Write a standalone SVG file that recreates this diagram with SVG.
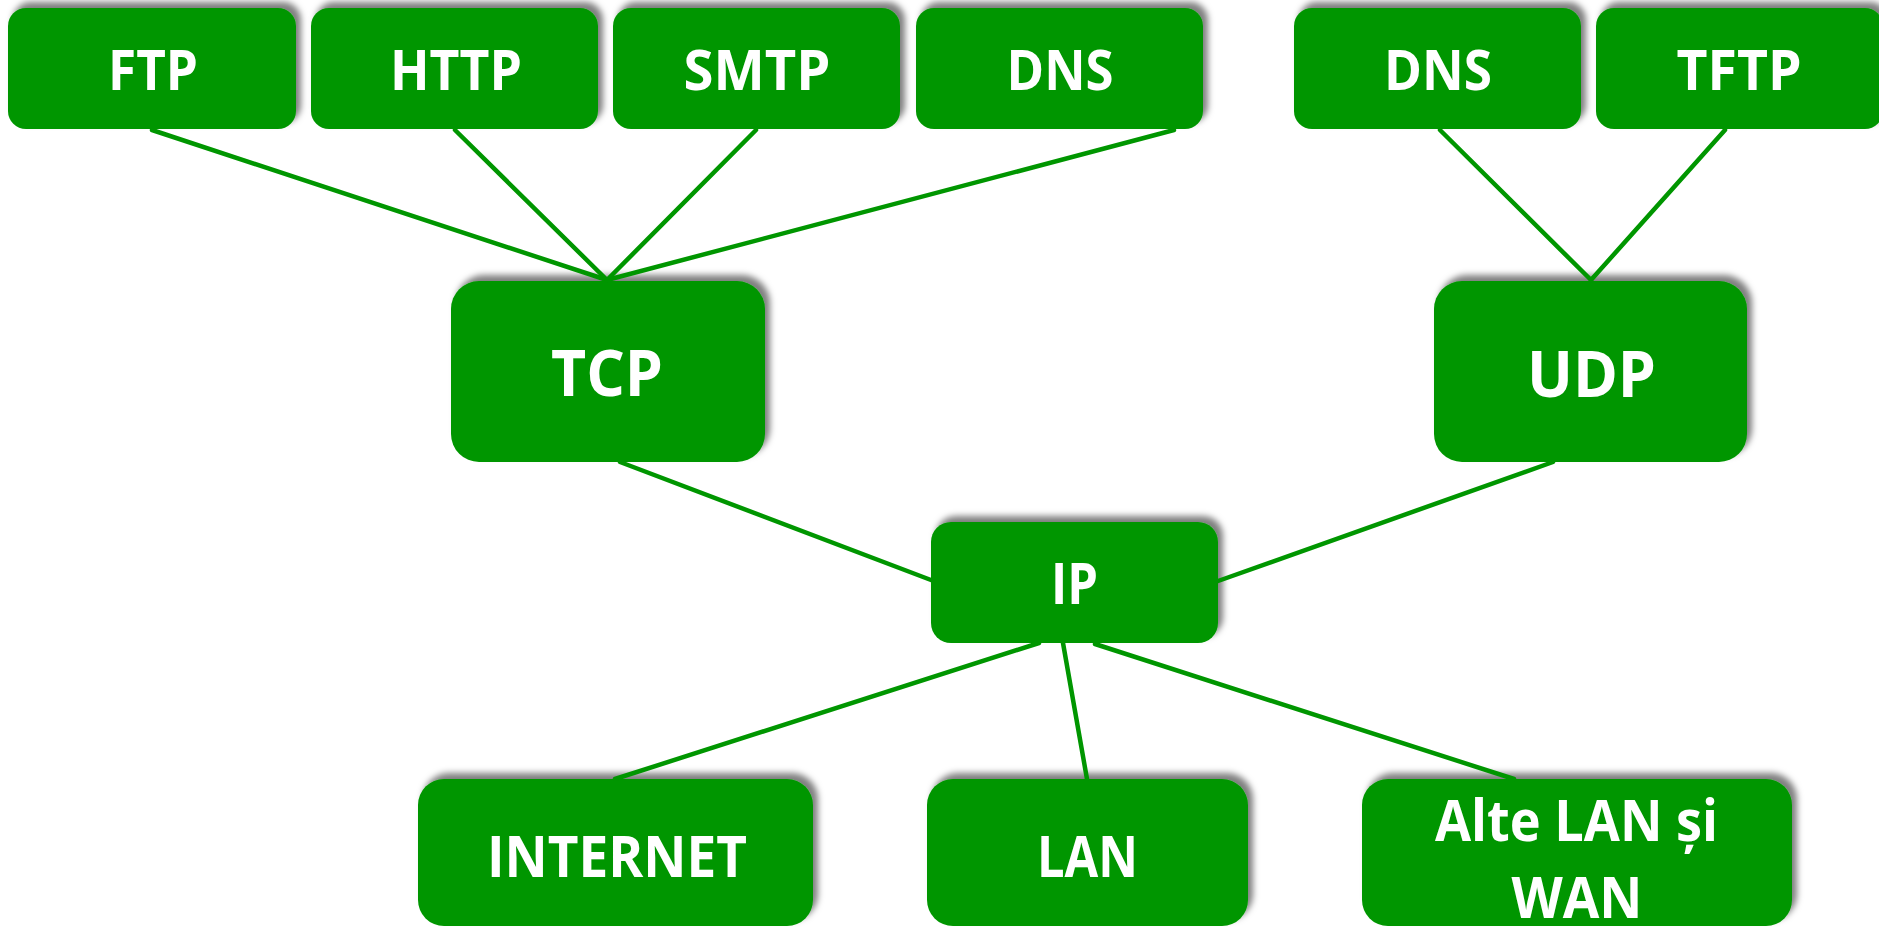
<svg xmlns="http://www.w3.org/2000/svg" width="1879" height="927" viewBox="0 0 1879 927">
<defs>
<filter id="sh" x="-10%" y="-20%" width="120%" height="140%">
<feDropShadow dx="5" dy="-6" stdDeviation="3" flood-color="#000" flood-opacity="0.5"/>
</filter>
<style>
.box{fill:#009600;filter:url(#sh)}
.t{font-family:"Open Sans","Liberation Sans",sans-serif;font-weight:bold;fill:#fff;text-anchor:middle}
.s{font-size:56px}
.m{font-size:65px}
.b{font-size:58px}
.c{stroke:#009600;stroke-width:4.5;fill:none;stroke-linecap:round}
</style>
</defs>
<rect width="1879" height="927" fill="#fff"/>
<g id="ftp"><rect class="box" x="8" y="8" width="288" height="121" rx="18"/><text class="t s" x="153" y="90" textLength="90" lengthAdjust="spacingAndGlyphs">FTP</text></g>
<g id="http"><rect class="box" x="311" y="8" width="287" height="121" rx="18"/><text class="t s" x="456" y="90" textLength="132" lengthAdjust="spacingAndGlyphs">HTTP</text></g>
<g id="smtp"><rect class="box" x="613" y="8" width="287" height="121" rx="18"/><text class="t s" x="757" y="90" textLength="147" lengthAdjust="spacingAndGlyphs">SMTP</text></g>
<g id="dns1"><rect class="box" x="916" y="8" width="287" height="121" rx="18"/><text class="t s" x="1060" y="90" textLength="107" lengthAdjust="spacingAndGlyphs">DNS</text></g>
<g id="dns2"><rect class="box" x="1294" y="8" width="287" height="121" rx="18"/><text class="t s" x="1438" y="90" textLength="108" lengthAdjust="spacingAndGlyphs">DNS</text></g>
<g id="tftp"><rect class="box" x="1596" y="8" width="287" height="121" rx="18"/><text class="t s" x="1739" y="90" textLength="125" lengthAdjust="spacingAndGlyphs">TFTP</text></g>
<g id="tcp"><rect class="box" x="451" y="281" width="314" height="181" rx="28"/><text class="t m" x="607" y="396" textLength="112" lengthAdjust="spacingAndGlyphs">TCP</text></g>
<g id="udp"><rect class="box" x="1434" y="281" width="313" height="181" rx="28"/><text class="t m" x="1591.5" y="397" textLength="129" lengthAdjust="spacingAndGlyphs">UDP</text></g>
<g id="ip"><rect class="box" x="931" y="522" width="287" height="121" rx="20"/><text class="t b" x="1074.5" y="604" textLength="47" lengthAdjust="spacingAndGlyphs">IP</text></g>
<g id="internet"><rect class="box" x="418" y="779" width="395" height="147" rx="26"/><text class="t b" x="617" y="877" textLength="260" lengthAdjust="spacingAndGlyphs">INTERNET</text></g>
<g id="lan"><rect class="box" x="927" y="779" width="321" height="147" rx="26"/><text class="t b" x="1087.5" y="877" textLength="101" lengthAdjust="spacingAndGlyphs">LAN</text></g>
<g id="alte"><rect class="box" x="1362" y="779" width="430" height="147" rx="26"/><text class="t b" x="1576.5" y="841" textLength="283" lengthAdjust="spacingAndGlyphs">Alte LAN și</text><text class="t b" x="1577" y="918" textLength="131" lengthAdjust="spacingAndGlyphs">WAN</text></g>
<g id="connectors">
<line class="c" x1="152" y1="130" x2="607" y2="280"/>
<line class="c" x1="455" y1="130" x2="607" y2="280"/>
<line class="c" x1="756" y1="130" x2="607" y2="280"/>
<line class="c" x1="1174" y1="130" x2="607" y2="280"/>
<line class="c" x1="1440" y1="130" x2="1591" y2="280"/>
<line class="c" x1="1725" y1="130" x2="1591" y2="280"/>
<line class="c" x1="620" y1="462" x2="931" y2="580"/>
<line class="c" x1="1553" y1="462" x2="1218" y2="581"/>
<line class="c" x1="1039" y1="643" x2="615" y2="779"/>
<line class="c" x1="1063" y1="643" x2="1087" y2="779"/>
<line class="c" x1="1095" y1="644" x2="1514" y2="779"/>
</g>
</svg>
